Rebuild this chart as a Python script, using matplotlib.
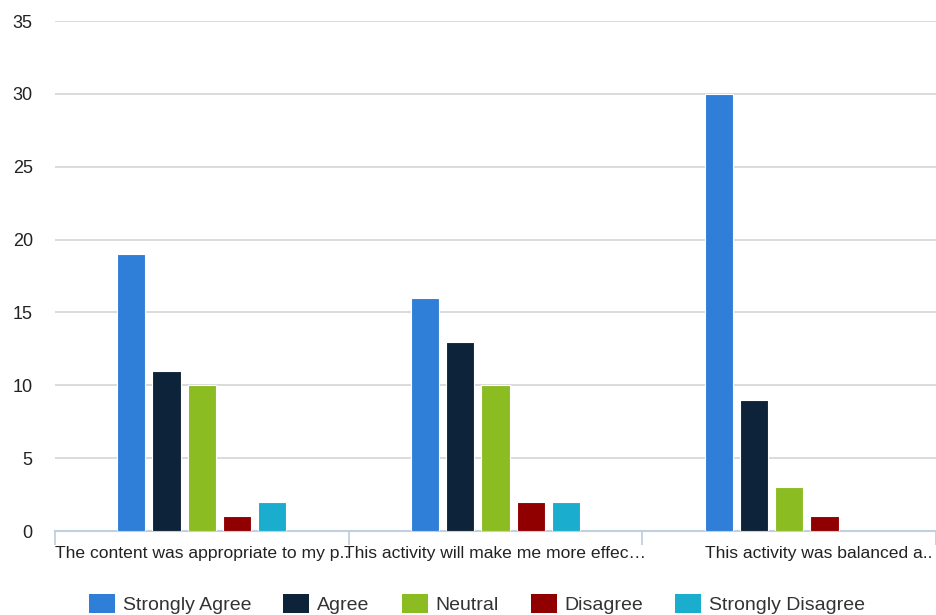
import numpy as np
import matplotlib
matplotlib.use('Agg')
import matplotlib.pyplot as plt
import matplotlib.transforms as mtransforms
from matplotlib.patches import Patch

plt.rcParams['font.family'] = ['Liberation Sans', 'DejaVu Sans']

categories = ['The content was appropriate to my p..',
              'This activity will make me more effec\u2026',
              'This activity was balanced a..']
series_names = ['Strongly Agree', 'Agree', 'Neutral', 'Disagree', 'Strongly Disagree']
strongly_agree = [19, 16, 30]
agree = [11, 13, 9]
neutral = [10, 10, 3]
disagree = [1, 2, 1]
strongly_disagree = [2, 2, 0]
colors = ['#2f7ed8', '#0d233a', '#8bbc21', '#910000', '#1aadce']

values = [strongly_agree, agree, neutral, disagree, strongly_disagree]

fig = plt.figure(figsize=(9.36, 6.15), dpi=100)
ax = fig.add_axes([55/936, 1-531/615, 1-55/936, 510/615])

x = np.arange(len(categories))
slot = 0.6 / len(values)
for j, vals in enumerate(values):
    offs = -0.3 + slot*(j+0.5)
    ax.bar(x + offs, vals, width=slot*0.8, color=colors[j], edgecolor='white',
           linewidth=0.8, zorder=3)

ax.set_xlim(-0.5, 2.5)
ax.set_ylim(0, 35)
ax.set_yticks(np.arange(0, 36, 5))
ax.yaxis.grid(True, color='#d8d8d8', linewidth=1.3, zorder=0)
ax.set_axisbelow(True)

for s in ['top', 'right', 'left']:
    ax.spines[s].set_visible(False)
ax.spines['bottom'].set_color('#c0d0e0')
ax.spines['bottom'].set_linewidth(1.5)

ax.tick_params(axis='y', length=0, pad=16, labelsize=13, labelcolor='#222222')
ax.set_xticks(x)
ax.set_xticklabels(categories)
ax.tick_params(axis='x', which='major', length=0, pad=11, labelsize=12.6, labelcolor='#222222')
ax.set_xticks([-0.5, 0.5, 1.5, 2.5], minor=True)
ax.tick_params(axis='x', which='minor', length=10, width=1.3, color='#c0d0e0', direction='out')
# last label is pushed right in the original (it hugs the right edge)
shift = mtransforms.ScaledTranslation(30/100, 0, fig.dpi_scale_trans)
lbl = ax.get_xticklabels()[2]
lbl.set_transform(lbl.get_transform() + shift)

handles = [Patch(facecolor=c, edgecolor='none') for c in colors]
fig.legend(handles, series_names, loc='center', bbox_to_anchor=(477/936, 1-604/615),
           ncol=5, frameon=False, fontsize=14, handlelength=1.34, handleheight=1.15,
           columnspacing=1.65, handletextpad=0.4, labelcolor='#333333')

fig.savefig('out.png', dpi=100)
